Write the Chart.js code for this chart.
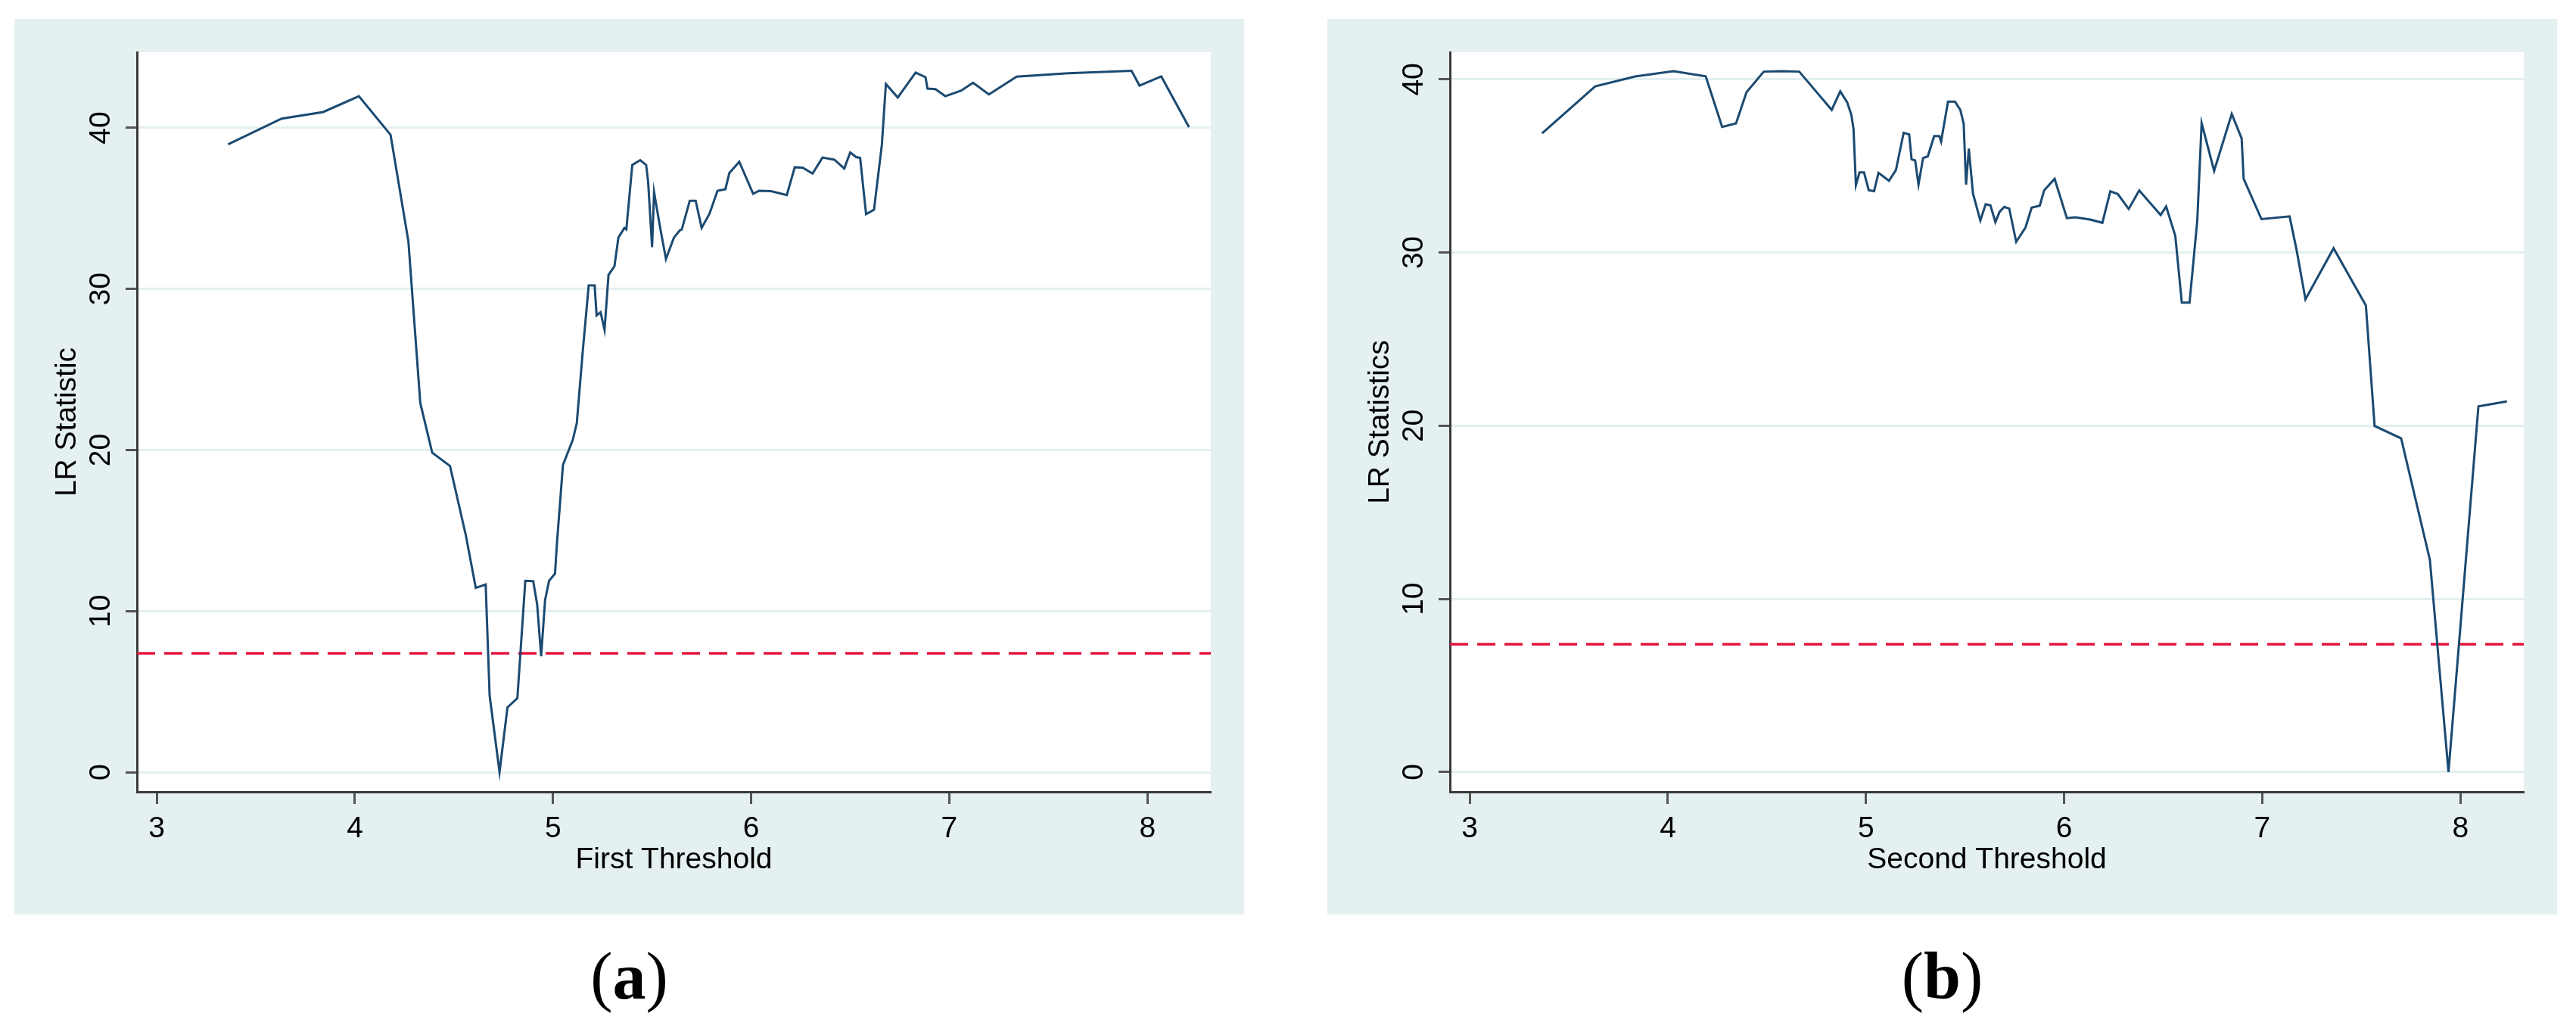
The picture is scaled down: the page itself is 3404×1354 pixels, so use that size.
<!DOCTYPE html>
<html>
<head>
<meta charset="utf-8">
<script src="https://cdn.jsdelivr.net/npm/chart.js@4.4.1/dist/chart.umd.min.js"></script>
<style>
  body { margin: 0; width: 3404px; height: 1354px; background: #fff; position: relative; overflow: hidden; }
  .panel { position: absolute; top: 25px; width: 1625px; height: 1183px; background: #e5f0f1; }
  #panel-a { left: 19px; }
  #panel-b { left: 1754px; }
  .caption { position: absolute; top: 1246px; width: 1625px; text-align: center;
             font-family: "Liberation Serif", "DejaVu Serif", serif; font-size: 88px; line-height: 88px; color: #000; }
  #cap-a { left: 19px; }
  #cap-b { left: 1754px; }
</style>
</head>
<body>
<div class="panel" id="panel-a"><canvas id="chart-a" width="1625" height="1183"></canvas></div>
<div class="panel" id="panel-b"><canvas id="chart-b" width="1625" height="1183"></canvas></div>
<div class="caption" id="cap-a">(<b>a</b>)</div>
<div class="caption" id="cap-b">(<b>b</b>)</div>

<script>
// datos
const firstThreshold = [3.36, 3.63, 3.84, 4.02, 4.18, 4.27, 4.33, 4.39, 4.48, 4.56,
  4.61, 4.66, 4.68, 4.73, 4.77, 4.82, 4.86, 4.90, 4.92, 4.94,
  4.96, 4.98, 5.01, 5.02, 5.05, 5.10, 5.12, 5.15, 5.18, 5.21,
  5.22, 5.24, 5.26, 5.28, 5.31, 5.33, 5.36, 5.37, 5.40, 5.44,
  5.47, 5.48, 5.50, 5.51, 5.54, 5.57, 5.61, 5.64, 5.65, 5.69,
  5.72, 5.75, 5.79, 5.83, 5.87, 5.89, 5.94, 6.01, 6.04, 6.10,
  6.18, 6.22, 6.26, 6.31, 6.36, 6.42, 6.47, 6.50, 6.53, 6.55,
  6.58, 6.62, 6.66, 6.68, 6.74, 6.83, 6.88, 6.89, 6.93, 6.98,
  7.06, 7.12, 7.20, 7.34, 7.60, 7.92, 7.96, 8.07, 8.21];
const firstLR = [38.98, 40.58, 40.99, 41.97, 39.57, 32.95, 22.92, 19.84, 19.01, 14.70,
  11.44, 11.65, 4.76, 0.00, 4.02, 4.59, 11.88, 11.86, 10.40, 7.20,
  10.70, 11.88, 12.33, 14.26, 19.07, 20.64, 21.68, 26.13, 30.22, 30.22,
  28.36, 28.56, 27.46, 30.88, 31.41, 33.19, 33.79, 33.70, 37.70, 38.00,
  37.70, 36.66, 32.60, 36.01, 33.85, 31.86, 33.19, 33.64, 33.70, 35.48,
  35.48, 33.79, 34.68, 36.10, 36.20, 37.20, 37.90, 35.91, 36.10, 36.07,
  35.83, 37.56, 37.53, 37.17, 38.16, 38.03, 37.48, 38.48, 38.19, 38.14,
  34.65, 34.92, 38.98, 42.73, 41.89, 43.44, 43.15, 42.44, 42.41, 41.97,
  42.32, 42.81, 42.08, 43.18, 43.39, 43.55, 42.63, 43.20, 40.05];

const secondThreshold = [3.365, 3.633, 3.835, 4.028, 4.191, 4.274, 4.344, 4.397, 4.484, 4.572,
  4.663, 4.827, 4.870, 4.905, 4.926, 4.937, 4.949, 4.967, 4.990, 5.014,
  5.041, 5.063, 5.116, 5.151, 5.190, 5.218, 5.230, 5.248, 5.265, 5.288,
  5.312, 5.344, 5.370, 5.379, 5.414, 5.449, 5.476, 5.493, 5.505, 5.519,
  5.540, 5.577, 5.604, 5.628, 5.653, 5.674, 5.698, 5.723, 5.758, 5.805,
  5.836, 5.877, 5.899, 5.952, 6.014, 6.056, 6.131, 6.193, 6.233, 6.271,
  6.326, 6.379, 6.487, 6.515, 6.561, 6.594, 6.633, 6.672, 6.694, 6.757,
  6.846, 6.896, 6.906, 6.996, 7.138, 7.174, 7.218, 7.360, 7.523, 7.567,
  7.701, 7.846, 7.940, 8.091, 8.235];
const secondLR = [36.89, 39.60, 40.17, 40.48, 40.18, 37.26, 37.46, 39.26, 40.45, 40.48,
  40.45, 38.24, 39.31, 38.68, 37.95, 37.14, 33.90, 34.63, 34.63, 33.60,
  33.55, 34.61, 34.15, 34.77, 36.92, 36.82, 35.39, 35.32, 33.93, 35.46,
  35.56, 36.73, 36.73, 36.41, 38.72, 38.72, 38.24, 37.44, 33.93, 36.00,
  33.41, 31.85, 32.79, 32.73, 31.76, 32.35, 32.64, 32.54, 30.62, 31.45,
  32.60, 32.71, 33.59, 34.26, 31.99, 32.04, 31.91, 31.72, 33.54, 33.38,
  32.52, 33.59, 32.17, 32.66, 30.97, 27.11, 27.11, 31.85, 37.48, 34.72,
  38.01, 36.59, 34.26, 31.93, 32.09, 30.11, 27.30, 30.25, 26.95, 19.99,
  19.27, 12.26, 0.00, 21.12, 21.41];

// valor critico (linea roja discontinua)
const critValue = 7.38;

// marcas de los ejes
const xTicks = [3, 4, 5, 6, 7, 8];
const yTicks = [0, 10, 20, 30, 40];

Chart.defaults.font.family = "'Liberation Sans', Arial, sans-serif";
Chart.defaults.color = "#000";

//fondo blanco del area del grafico
const plotBg = {
  id: "plotBg",
  beforeDraw(chart) {
    const { ctx, chartArea: a } = chart;
    ctx.save();
    ctx.fillStyle = "#fff";
    ctx.fillRect(a.left, a.top, a.right - a.left, a.bottom - a.top);
    ctx.restore();
  },
};

function makePanel(id, xs, ys, xTitle, yTitle, yMin, yMax) {
  const xMin = 2.9, xMax = 8.32;
  const points = xs.map((x, i) => ({ x: x, y: ys[i] }));
  const ctx = document.getElementById(id).getContext("2d");
  return new Chart(ctx, {
    type: "line",
    data: {
      datasets: [
        {
          data: points,
          borderColor: "#1b4a71",
          borderWidth: 3,
          pointRadius: 0,
          tension: 0,
        },
        {
          data: [{ x: xMin, y: critValue }, { x: xMax, y: critValue }],
          borderColor: "#e3173f",
          borderWidth: 3.5,
          borderDash: [24, 12],
          pointRadius: 0,
        },
      ],
    },
    options: {
      responsive: false,
      animation: false,
      devicePixelRatio: 1,
      layout: { padding: { top: 44, right: 44, left: 0, bottom: 0 } },
      plugins: { legend: { display: false }, tooltip: { enabled: false } },
      scales: {
        x: {
          type: "linear",
          min: xMin,
          max: xMax,
          afterBuildTicks: (s) => { s.ticks = xTicks.map((v) => ({ value: v })); },
          afterFit: (s) => { s.height = 162; },
          border: { color: "#3a3a3a", width: 3 },
          grid: { drawOnChartArea: false, tickLength: 16, tickColor: "#555", tickWidth: 3 },
          ticks: { font: { size: 39, lineHeight: 1 }, padding: 14, maxRotation: 0 },
          title: {
            display: true,
            text: xTitle,
            font: { size: 39, lineHeight: 1 },
            padding: { top: 0, bottom: 52 },
          },
        },
        y: {
          type: "linear",
          min: yMin,
          max: yMax,
          afterBuildTicks: (s) => { s.ticks = yTicks.map((v) => ({ value: v })); },
          afterFit: (s) => { s.width = 162; },
          border: { color: "#3a3a3a", width: 3 },
          grid: { color: "#e3eff1", lineWidth: 3, tickLength: 15, tickColor: "#555", tickWidth: 3 },
          ticks: { font: { size: 39, lineHeight: 1 }, padding: 10, minRotation: 90, maxRotation: 90, crossAlign: "center" },
          title: {
            display: true,
            text: yTitle,
            font: { size: 39, lineHeight: 1 },
            padding: { top: 51, bottom: 0 },
          },
        },
      },
    },
    plugins: [plotBg],
  });
}

makePanel("chart-a", firstThreshold, firstLR, "First Threshold", "LR Statistic", -1.22, 44.7);
makePanel("chart-b", secondThreshold, secondLR, "Second Threshold", "LR Statistics", -1.14, 41.57);
</script>
</body>
</html>
